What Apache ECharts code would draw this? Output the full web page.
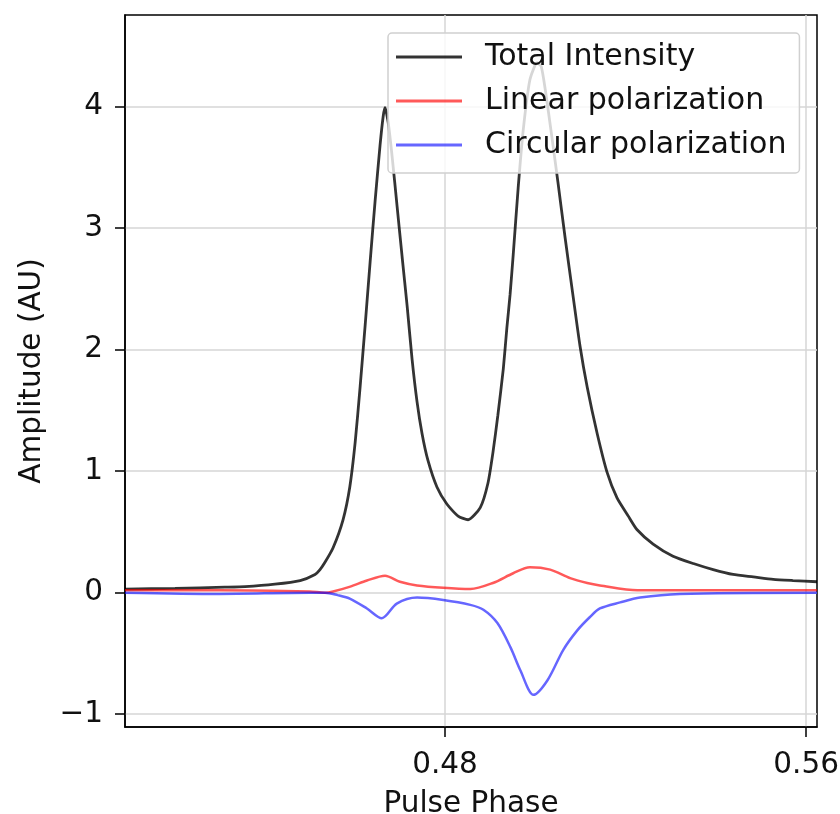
<!DOCTYPE html>
<html>
<head>
<meta charset="utf-8">
<script src="https://cdn.jsdelivr.net/npm/echarts@6/dist/echarts.min.js"></script>
<style>
html,body{margin:0;padding:0;background:#fff;}
#chart{width:840px;height:814px;}
</style>
</head>
<body>
<div id="chart"></div>
<script>
// ---- Data ----
var seriesNames = ['Total Intensity', 'Linear polarization', 'Circular polarization'];

var totalPhase = [0.4091,0.4202,0.4312,0.4357,0.4423,0.4479,0.4512,0.4523,0.4534,0.4552,0.4574,0.4589,0.4601,0.4612,0.4623,0.4634,0.4645,0.4656,0.4663,0.4667,0.4674,0.4683,0.4694,0.4705,0.4716,0.4727,0.4738,0.4749,0.4762,0.4782,0.4804,0.4829,0.4851,0.4878,0.4895,0.4906,0.4917,0.4929,0.4937,0.4944,0.4951,0.4962,0.4973,0.4988,0.5004,0.5013,0.5022,0.5037,0.5050,0.5066,0.5084,0.5099,0.5115,0.5137,0.5159,0.5181,0.5206,0.5225,0.5261,0.5305,0.5350,0.5394,0.5438,0.5483,0.5527,0.5571,0.5624];
var totalValue = [0.03,0.035,0.045,0.05,0.07,0.10,0.15,0.19,0.25,0.37,0.60,0.87,1.24,1.70,2.20,2.72,3.22,3.68,3.92,3.99,3.87,3.58,3.17,2.76,2.36,1.92,1.57,1.31,1.09,0.87,0.73,0.63,0.60,0.70,0.90,1.15,1.46,1.84,2.18,2.45,2.78,3.33,3.80,4.22,4.36,4.33,4.14,3.74,3.38,2.92,2.43,2.03,1.69,1.31,0.99,0.78,0.63,0.52,0.40,0.30,0.24,0.19,0.15,0.13,0.11,0.10,0.09];

var linearPhase = [0.4091,0.4300,0.4500,0.4534,0.4552,0.4590,0.4627,0.4667,0.4700,0.4738,0.4796,0.4856,0.4906,0.4951,0.4988,0.5033,0.5077,0.5115,0.5143,0.5226,0.5320,0.5624];
var linearValue = [0.02,0.02,0.01,0.00,0.01,0.05,0.10,0.14,0.09,0.06,0.04,0.03,0.08,0.16,0.21,0.19,0.12,0.08,0.06,0.02,0.02,0.02];

var circularPhase = [0.4091,0.4300,0.4500,0.4534,0.4562,0.4590,0.4627,0.4660,0.4693,0.4738,0.4796,0.4856,0.4885,0.4916,0.4945,0.4967,0.4996,0.5027,0.5062,0.5093,0.5121,0.5143,0.5188,0.5232,0.5320,0.5624];
var circularValue = [0.00,-0.01,0.00,0.00,-0.02,-0.05,-0.13,-0.21,-0.09,-0.04,-0.06,-0.10,-0.14,-0.25,-0.45,-0.64,-0.84,-0.72,-0.47,-0.31,-0.20,-0.13,-0.08,-0.04,-0.01,0.00];

var xTicks = [0.48, 0.56];
var yTicks = [-1, 0, 1, 2, 3, 4];

function zip(a, b) { return a.map(function (v, i) { return [v, b[i]]; }); }

var FONT = 'DejaVu Sans';
var chart = echarts.init(document.getElementById('chart'), null, {renderer: 'canvas'});

chart.setOption({
  animation: false,
  backgroundColor: '#ffffff',
  grid: {
    left: 125, right: 23, top: 15, bottom: 87,
    containLabel: false, outerBoundsMode: 'none',
    show: true, borderColor: '#000', borderWidth: 1.5, backgroundColor: 'transparent'
  },
  legend: {
    show: true,
    orient: 'vertical',
    left: 388, top: 33,
    padding: [9, 13, 13, 8],
    itemGap: 14,
    itemWidth: 66, itemHeight: 3,
    icon: 'rect',
    backgroundColor: 'rgba(255,255,255,0.8)',
    borderColor: '#d0d0d0', borderWidth: 1.5, borderRadius: 4,
    textStyle: {fontFamily: FONT, fontSize: 30, color: '#111', lineHeight: 30, padding: [0, 0, 0, 18]},
    data: seriesNames
  },
  xAxis: {
    type: 'value',
    min: 0.4091, max: 0.5624,
    name: 'Pulse Phase', nameLocation: 'middle', nameGap: 62,
    nameTextStyle: {fontFamily: FONT, fontSize: 29.5, color: '#111'},
    axisLine: {show: true, onZero: false, lineStyle: {color: '#000', width: 1.5}},
    axisTick: {show: true, inside: false, length: 10, lineStyle: {color: '#000', width: 1.5}, customValues: xTicks},
    axisLabel: {fontFamily: FONT, fontSize: 29.5, color: '#111', margin: 23, customValues: xTicks,
      formatter: function (v) { return v.toFixed(2); }},
    splitLine: {show: true, lineStyle: {color: '#d6d6d6', width: 1.5}}
  },
  yAxis: {
    type: 'value',
    min: -1.105, max: 4.753,
    name: 'Amplitude (AU)', nameLocation: 'middle', nameGap: 78, nameRotate: 90,
    nameTextStyle: {fontFamily: FONT, fontSize: 29.5, color: '#111'},
    axisLine: {show: true, onZero: false, lineStyle: {color: '#000', width: 1.5}},
    axisTick: {show: true, inside: false, length: 10, lineStyle: {color: '#000', width: 1.5}, customValues: yTicks},
    axisLabel: {fontFamily: FONT, fontSize: 29.5, color: '#111', margin: 22, customValues: yTicks,
      formatter: function (v) { return v < 0 ? '\u2212' + Math.abs(v) : String(v); }},
    splitLine: {show: true, lineStyle: {color: '#d6d6d6', width: 1.5}}
  },
  series: [
    {name: seriesNames[0], type: 'line', data: zip(totalPhase, totalValue), showSymbol: false, smooth: 0.2,
      lineStyle: {color: 'rgba(0,0,0,0.8)', width: 2.8}, itemStyle: {color: 'rgba(0,0,0,0.8)'}, z: 2},
    {name: seriesNames[1], type: 'line', data: zip(linearPhase, linearValue), showSymbol: false, smooth: 0.3,
      lineStyle: {color: 'rgba(255,0,0,0.65)', width: 2.5}, itemStyle: {color: 'rgba(255,0,0,0.65)'}, z: 3},
    {name: seriesNames[2], type: 'line', data: zip(circularPhase, circularValue), showSymbol: false, smooth: 0.3,
      lineStyle: {color: 'rgba(0,0,255,0.6)', width: 2.5}, itemStyle: {color: 'rgba(0,0,255,0.6)'}, z: 4}
  ]
});
</script>
</body>
</html>
